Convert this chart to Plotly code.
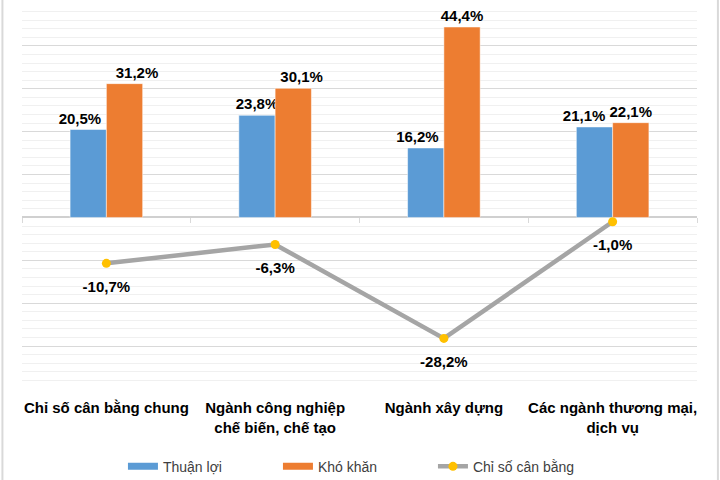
import plotly.graph_objects as go

categories = ["Chỉ số cân bằng chung", "Ngành công nghiệp<br>chế biến, chế tạo",
              "Ngành xây dựng", "Các ngành thương mại,<br>dịch vụ"]
thuan_loi = [20.5, 23.8, 16.2, 21.1]
kho_khan = [31.2, 30.1, 44.4, 22.1]
can_bang = [-10.7, -6.3, -28.2, -1.0]

# horizontal nudges of bar labels (in no-break spaces), as placed in the source
tl_pad_right = [4, 0, 4, 5]
kk_pad_left = [6, 4, 0, 0]

FONT = "Liberation Sans, Arial, sans-serif"
LABEL_FONT = dict(family=FONT, size=15, color="black", weight="bold")
BLUE, ORANGE, GRAY, GOLD = "#5b9bd5", "#ed7d31", "#a5a5a5", "#ffc000"
NB = "\u00a0"


def fmt(v):
    return f"{v:.1f}%".replace(".", ",")


tl_text = [fmt(v) + NB * p for v, p in zip(thuan_loi, tl_pad_right)]
kk_text = [NB * p + fmt(v) for v, p in zip(kho_khan, kk_pad_left)]

fig = go.Figure()
fig.add_trace(go.Bar(
    x=categories, y=thuan_loi, name="Thuận lợi", showlegend=False,
    marker=dict(color=BLUE, line=dict(color="white", width=0.5)),
    text=tl_text, texttemplate="%{text}", textposition="outside", cliponaxis=False,
    constraintext="none", textfont=LABEL_FONT, hoverinfo="skip",
))
fig.add_trace(go.Bar(
    x=categories, y=kho_khan, name="Khó khăn", showlegend=False,
    marker=dict(color=ORANGE, line=dict(color="white", width=0.5)),
    text=kk_text, texttemplate="%{text}", textposition="outside",
    cliponaxis=False, constraintext="none", textfont=LABEL_FONT, hoverinfo="skip",
))
fig.add_trace(go.Scatter(
    x=categories, y=can_bang, name="Chỉ số cân bằng", showlegend=False,
    mode="lines+markers",
    line=dict(color=GRAY, width=4.5),
    marker=dict(color=GOLD, size=9),
    cliponaxis=False, hoverinfo="skip",
))
# labels of the balance index, set a little below each point
fig.add_trace(go.Scatter(
    x=categories, y=can_bang, showlegend=False, mode="markers+text",
    marker=dict(size=26, opacity=0),
    text=[fmt(v) for v in can_bang], textposition="bottom center",
    textfont=LABEL_FONT, cliponaxis=False, hoverinfo="skip",
))

# legend entries (wide swatches like the source)
for name, col in [("Thuận lợi", BLUE), ("Khó khăn", ORANGE)]:
    fig.add_trace(go.Scatter(x=[None], y=[None], name=name, mode="lines",
                             line=dict(color=col, width=7)))
fig.add_trace(go.Scatter(x=[None], y=[None], name="Chỉ số cân bằng",
                         mode="lines+markers", line=dict(color=GRAY, width=4.5),
                         marker=dict(color=GOLD, size=9)))

# axis carrying tick marks at category boundaries along the zero line
fig.add_trace(go.Scatter(x=categories, y=[None]*4, xaxis="x2", showlegend=False,
                         hoverinfo="skip"))

fig.update_layout(
    width=720, height=480,
    margin=dict(l=22, r=23, t=3, b=91, autoexpand=False),
    paper_bgcolor="white", plot_bgcolor="white",
    separators=",.",
    barmode="group", bargap=0.57, bargroupgap=0,
    font=dict(family=FONT, color="#404040"),
    showlegend=True,
    legend=dict(orientation="h", x=0.494, xanchor="center", y=-0.16, yanchor="top",
                font=dict(family=FONT, size=14, color="#404040"),
                itemwidth=30, tracegroupgap=0, entrywidth=110),
    xaxis=dict(
        type="category", showgrid=False, showline=False, ticks="",
        tickfont=dict(family=FONT, size=15, color="black", weight="bold"),
        ticklabelstandoff=8, automargin=False,
    ),
    xaxis2=dict(
        type="category", overlaying="x", anchor="free", position=40/90,
        showgrid=False, showline=False, ticks="outside", tickson="boundaries",
        ticklen=5, tickcolor="#d9d9d9", showticklabels=False, matches="x",
        automargin=False,
    ),
    yaxis=dict(
        range=[-40, 50], dtick=10, showticklabels=False,
        showgrid=True, gridcolor="#d9d9d9", gridwidth=1,
        zeroline=True, zerolinecolor="#d0d0d0", zerolinewidth=1.5,
        minor=dict(dtick=2, showgrid=True, gridcolor="#f0f0f0", gridwidth=1),
        showline=False, ticks="", automargin=False,
    ),
    shapes=[
        dict(type="line", xref="paper", yref="paper", x0=-0.029, x1=-0.029,
             y0=-0.3, y1=1.01, line=dict(color="#d9d9d9", width=2)),
        dict(type="line", xref="paper", yref="paper", x0=1.031, x1=1.031,
             y0=-0.3, y1=1.01, line=dict(color="#d9d9d9", width=2)),
    ],
)

fig.write_html("out.html", config={"displayModeBar": False},
               post_script="document.body.style.margin='0';")
